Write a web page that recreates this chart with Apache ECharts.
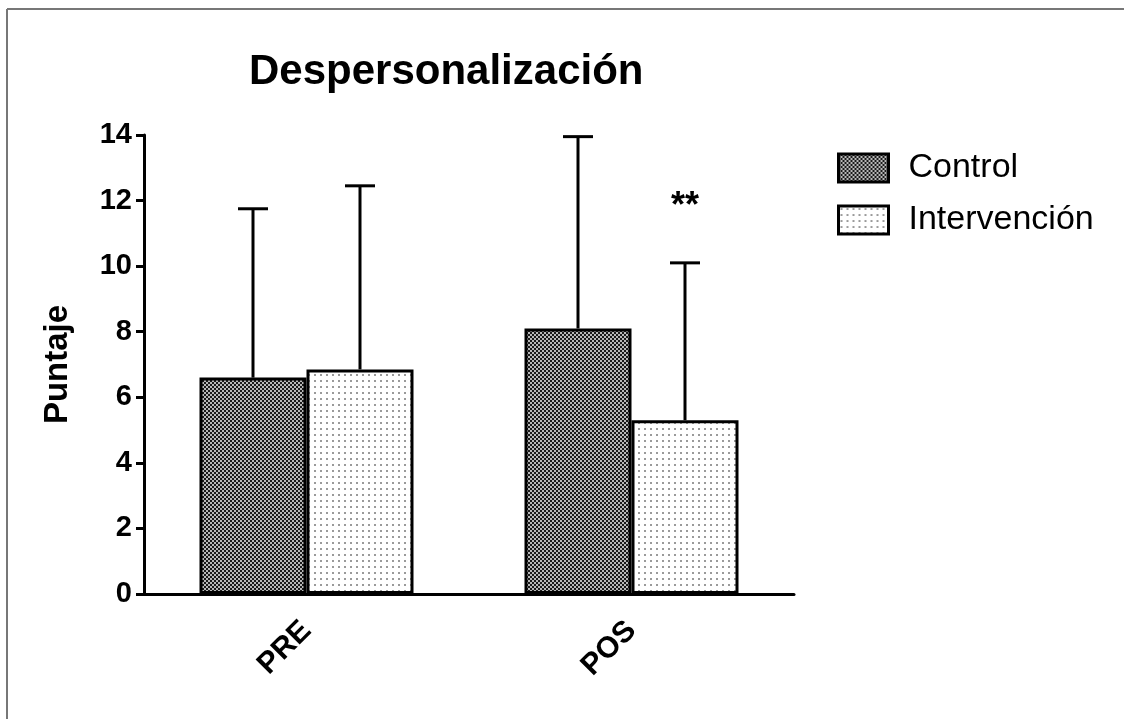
<!DOCTYPE html>
<html>
<head>
<meta charset="utf-8">
<script src="https://cdn.jsdelivr.net/npm/echarts@6/dist/echarts.min.js"></script>
<style>
  html, body { margin: 0; padding: 0; background: #fff; }
  #chart { width: 1124px; height: 719px; }
</style>
</head>
<body>
<div id="chart"></div>
<script>
const categories = ["PRE", "POS"];
const controlMean = [6.6, 8.1];
const controlSd = [5.15, 5.85];
const intervMean = [6.85, 5.3];
const intervSd = [5.6, 4.8];
const intervSig = ["", "**"];
const yTicks = [0, 2, 4, 6, 8, 10, 12, 14];

const FONT = "Liberation Sans, Arial, sans-serif";
const BAR_W = 107;

// fill patterns (GraphPad style hatch)
function makePattern(size, bg, fg, cells) {
  const c = document.createElement("canvas");
  c.width = size;
  c.height = size;
  const ctx = c.getContext("2d");
  ctx.fillStyle = bg;
  ctx.fillRect(0, 0, size, size);
  ctx.fillStyle = fg;
  cells.forEach(r => ctx.fillRect(r[0], r[1], r[2], r[3]));
  return { image: c, repeat: "repeat" };
}
const controlFill = makePattern(4, "#1a1a1a", "#b8b8b8", [[0, 0, 2, 2], [2, 2, 2, 2]]);
const intervFill = makePattern(6, "#ffffff", "#9a9a9a", [[2, 2, 2, 2]]);

function errorBar(offset, labels) {
  return function(params, api) {
    const idx = api.value(0);
    const mean = api.value(1);
    const top = api.value(2);
    const p0 = api.coord([idx, mean]);
    const p1 = api.coord([idx, top]);
    const x = p0[0] + offset;
    const children = [
      {
        type: "line",
        shape: { x1: x, y1: p0[1], x2: x, y2: p1[1] },
        style: { stroke: "#000", lineWidth: 3 }
      },
      {
        type: "line",
        shape: { x1: x - 15, y1: p1[1], x2: x + 15, y2: p1[1] },
        style: { stroke: "#000", lineWidth: 3 }
      }
    ];
    if (labels && labels[idx]) {
      children.push({
        type: "text",
        x: x,
        y: p1[1] - 56,
        style: {
          text: labels[idx],
          fontFamily: FONT,
          fontSize: 36,
          fontWeight: "bold",
          fill: "#000",
          align: "center",
          verticalAlign: "middle"
        }
      });
    }
    return { type: "group", children: children };
  };
}

const chart = echarts.init(document.getElementById("chart"));
chart.setOption({
  animation: false,
  backgroundColor: "#fff",
  title: {
    text: "Despersonalización",
    left: 244,
    top: 46,
    textStyle: { fontFamily: FONT, fontSize: 42, fontWeight: "bold", color: "#000" }
  },
  legend: {
    data: ["Control", "Intervención"],
    orient: "vertical",
    left: 832,
    top: 146,
    itemWidth: 50,
    itemHeight: 28,
    itemGap: 18,
    icon: "rect",
    itemStyle: { borderColor: "#000", borderWidth: 3 },
    textStyle: { fontFamily: FONT, fontSize: 34, color: "#000", padding: [0, 0, 0, 15] }
  },
  graphic: [
    { type: "line", shape: { x1: 7, y1: 9, x2: 1124, y2: 9 }, style: { stroke: "#777", lineWidth: 2 } },
    { type: "line", shape: { x1: 7, y1: 9, x2: 7, y2: 719 }, style: { stroke: "#777", lineWidth: 2 } }
  ],
  grid: { left: 144, right: 330, top: 135, bottom: 125 },
  xAxis: {
    type: "category",
    data: categories,
    axisLine: { lineStyle: { color: "#000", width: 3 } },
    axisTick: { alignWithLabel: true, length: 10, lineStyle: { color: "#000", width: 3 } },
    axisLabel: {
      rotate: 45,
      margin: 32,
      fontFamily: FONT,
      fontSize: 30,
      fontWeight: "bold",
      color: "#000"
    }
  },
  yAxis: {
    type: "value",
    min: 0,
    max: 14,
    interval: 2,
    name: "Puntaje",
    nameLocation: "middle",
    nameGap: 70,
    nameTextStyle: { fontFamily: FONT, fontSize: 33, fontWeight: "bold", color: "#000" },
    axisLine: { show: true, lineStyle: { color: "#000", width: 3 } },
    axisTick: { show: true, length: 8, lineStyle: { color: "#000", width: 3 } },
    axisLabel: {
      margin: 12,
      fontFamily: FONT,
      fontSize: 29,
      fontWeight: "bold",
      color: "#000",
      formatter: v => (yTicks.indexOf(v) >= 0 ? String(v) : "")
    },
    splitLine: { show: false }
  },
  series: [
    {
      name: "Control",
      type: "bar",
      barWidth: BAR_W,
      barGap: "0%",
      data: controlMean,
      itemStyle: { color: controlFill, borderColor: "#000", borderWidth: 3 }
    },
    {
      name: "Intervención",
      type: "bar",
      barWidth: BAR_W,
      barGap: "0%",
      data: intervMean,
      itemStyle: { color: intervFill, borderColor: "#000", borderWidth: 3 }
    },
    {
      name: "err-control",
      type: "custom",
      renderItem: errorBar(-BAR_W / 2),
      data: categories.map((c, i) => [i, controlMean[i], controlMean[i] + controlSd[i]]),
      z: 1
    },
    {
      name: "err-interv",
      type: "custom",
      renderItem: errorBar(BAR_W / 2, intervSig),
      data: categories.map((c, i) => [i, intervMean[i], intervMean[i] + intervSd[i]]),
      z: 1
    }
  ]
});
</script>
</body>
</html>
